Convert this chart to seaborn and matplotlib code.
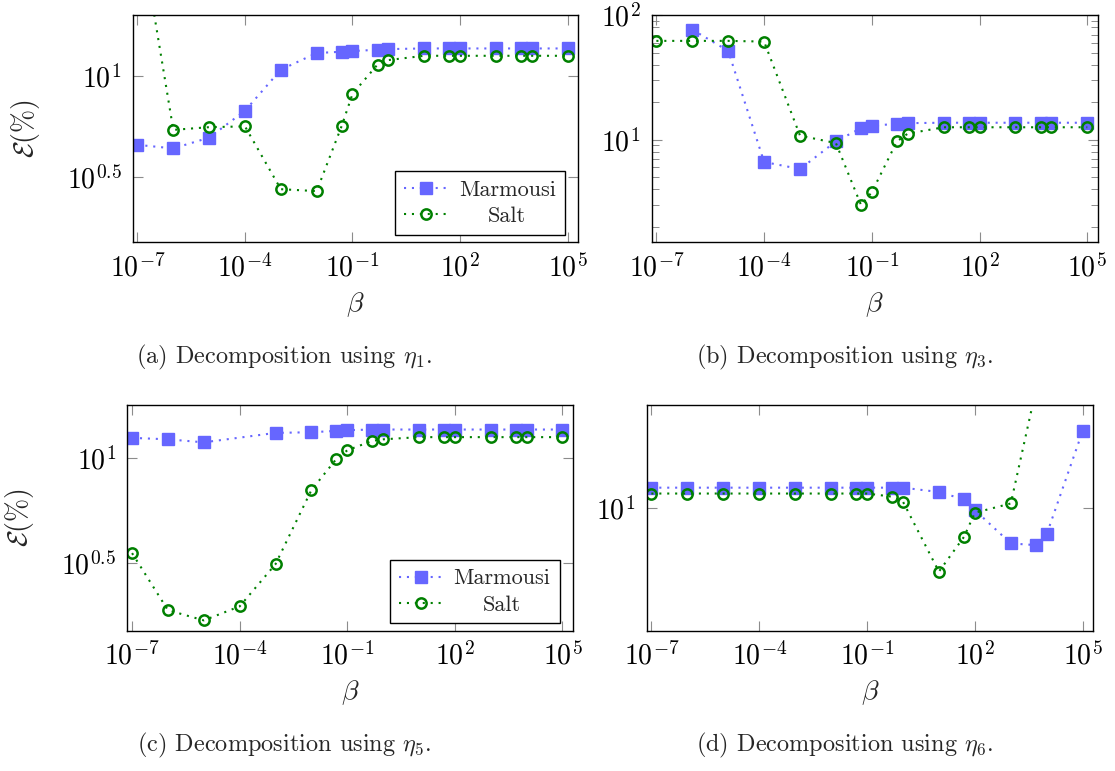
import numpy as np
import pandas as pd
import matplotlib
matplotlib.use("Agg")
import matplotlib.pyplot as plt
from matplotlib.ticker import FixedLocator, NullLocator, FixedFormatter
import seaborn as sns

# Regularisation weights shared by every panel
beta = [1e-7, 1e-6, 1e-5, 1e-4, 1e-3, 1e-2, 5e-2, 1e-1, 5e-1, 1,
        10, 50, 100, 1e3, 5e3, 1e4, 1e5]

# Relative error (%) for each decomposition (NaN = no run at that beta)
marmousi_eta1 = [4.56, 4.38, 4.95, 6.73, 10.75, 13.0, 13.2, 13.3, 13.5, 13.6,
                 13.7, 13.7, 13.7, 13.7, 13.7, 13.7, 13.7]
salt_eta1 = [64.0, 5.41, 5.58, 5.63, 2.75, 2.69, 5.66, 8.15, 11.4, 12.0,
             12.6, 12.6, 12.6, 12.6, 12.6, 12.6, 12.6]

marmousi_eta3 = [np.nan, 76.7, 51.8, 6.63, 5.82, 9.70, 12.4, 13.0, 13.4, 13.6,
                 13.7, 13.7, 13.7, 13.7, 13.7, 13.7, 13.7]
salt_eta3 = [62.3, 62.3, 62.3, 61.5, 10.8, 9.40, 2.99, 3.79, 9.70, 11.2,
             12.6, 12.6, 12.6, 12.6, 12.6, 12.6, 12.6]

marmousi_eta5 = [12.5, 12.3, 11.9, np.nan, 13.2, 13.3, 13.5, 13.6, 13.7, 13.7,
                 13.7, 13.7, 13.7, 13.7, 13.7, 13.7, 13.7]
salt_eta5 = [3.52, 1.88, 1.68, 1.96, 3.12, 7.04, 9.93, 10.9, 12.1, 12.3,
             12.6, 12.6, 12.6, 12.6, 12.6, 12.6, 12.6]

marmousi_eta6 = [13.8, 13.8, 13.8, 13.8, 13.8, 13.8, 13.8, 13.8, 13.8, 13.8,
                 12.9, 11.5, 9.75, 5.81, 5.66, 6.71, 33.3]
salt_eta6 = [12.6, 12.6, 12.6, 12.6, 12.6, 12.6, 12.6, 12.6, 12.0, 11.1,
             3.75, 6.44, 9.35, 10.8, 63.0, 63.0, 63.0]

series_labels = ["Marmousi", "Salt"]
x_tick_values = [1e-7, 1e-4, 1e-1, 1e2, 1e5]
x_tick_labels = [r"$10^{-7}$", r"$10^{-4}$", r"$10^{-1}$", r"$10^{2}$", r"$10^{5}$"]
captions = [r"(a) Decomposition using $\eta_1$.",
            r"(b) Decomposition using $\eta_3$.",
            r"(c) Decomposition using $\eta_5$.",
            r"(d) Decomposition using $\eta_6$."]

sns.set_theme(style="ticks")
plt.rcParams.update({
    "mathtext.fontset": "cm",
    "axes.formatter.use_mathtext": True,
    "axes.unicode_minus": False,
    "axes.edgecolor": "black",
    "axes.linewidth": 1.0,
})
plt.rcParams["font.family"] = ["cmr10", "DejaVu Serif"]

BLUE = "#6666ff"
GREEN = "#008000"
W, H = 1115, 771


def rect(left, right, top, bottom):
    return [left / W, 1 - bottom / H, (right - left) / W, (bottom - top) / H]


panels = [
    dict(m=marmousi_eta1, s=salt_eta1, rect=rect(132.8, 577.9, 15.3, 242.3),
         ylim=(1.5, 20), yticks=[10 ** 0.5, 10], ylabels=[r"$10^{0.5}$", r"$10^{1}$"],
         yminor=[], legend=True, ylabel=True, cap=(284, 357)),
    dict(m=marmousi_eta3, s=salt_eta3, rect=rect(651.7, 1097.7, 15.3, 242.3),
         ylim=(1.5, 100), yticks=[10, 100], ylabels=[r"$10^{1}$", r"$10^{2}$"],
         yminor=[2, 3, 4, 5, 6, 7, 8, 9, 20, 30, 40, 50, 60, 70, 80, 90],
         legend=False, ylabel=False, cap=(845, 357)),
    dict(m=marmousi_eta5, s=salt_eta5, rect=rect(127.4, 572.9, 404.7, 630.7),
         ylim=(1.5, 18), yticks=[10 ** 0.5, 10], ylabels=[r"$10^{0.5}$", r"$10^{1}$"],
         yminor=[], legend=True, ylabel=True, cap=(284, 745)),
    dict(m=marmousi_eta6, s=salt_eta6, rect=rect(646.7, 1093.1, 404.7, 630.7),
         ylim=(1.5, 50), yticks=[10], ylabels=[r"$10^{1}$"],
         yminor=[], legend=False, ylabel=False, cap=(845, 745)),
]

fig = plt.figure(figsize=(W / 100, H / 100), dpi=100)
line_kw = dict(linestyle=(0, (1, 2.8)), linewidth=1.5)
legends = []

for i, p in enumerate(panels):
    ax = fig.add_axes(p["rect"])
    ax.set_xscale("log")
    ax.set_yscale("log")

    df_m = pd.DataFrame({"beta": beta, "err": p["m"]}).dropna()
    df_s = pd.DataFrame({"beta": beta, "err": p["s"]}).dropna()
    sns.lineplot(data=df_m, x="beta", y="err", ax=ax, color=BLUE, marker="s",
                 markersize=8.6, markerfacecolor=BLUE, markeredgecolor=BLUE,
                 markeredgewidth=1.0, **line_kw)
    sns.lineplot(data=df_s, x="beta", y="err", ax=ax, color=GREEN, marker="o",
                 markersize=7.4, markerfacecolor="none", markeredgecolor=GREEN,
                 markeredgewidth=1.8, **line_kw)

    ax.set_xlim(10 ** -7.13, 10 ** 5.29)
    ax.set_ylim(*p["ylim"])

    ax.xaxis.set_major_locator(FixedLocator(x_tick_values))
    ax.xaxis.set_major_formatter(FixedFormatter(x_tick_labels))
    ax.xaxis.set_minor_locator(NullLocator())
    ax.yaxis.set_major_locator(FixedLocator(p["yticks"]))
    ax.yaxis.set_major_formatter(FixedFormatter(p["ylabels"]))
    if p["yminor"]:
        ax.yaxis.set_minor_locator(FixedLocator(p["yminor"]))
    else:
        ax.yaxis.set_minor_locator(NullLocator())
    ax.yaxis.set_minor_formatter(FixedFormatter([]))

    ax.tick_params(which="both", direction="in", top=True, right=True,
                   color="#8c8c8c", labelcolor="black", labelsize=20)
    ax.tick_params(which="major", length=7.2, width=0.8)
    ax.tick_params(which="minor", length=4.8, width=0.7)
    ax.tick_params(axis="x", pad=8)
    ax.tick_params(axis="y", pad=8)
    for sp in ax.spines.values():
        sp.set_color("black")
        sp.set_linewidth(1.0)

    ax.set_xlabel(r"$\beta$", fontsize=20)
    ax.xaxis.set_label_coords(0.5, -0.21)
    if p["ylabel"]:
        ax.set_ylabel(r"$\mathcal{E}(\%)$", fontsize=20)
        ax.yaxis.set_label_coords(-0.205, 0.5)
    else:
        ax.set_ylabel("")

    if p["legend"]:
        leg = ax.legend(handles=ax.lines[:2], labels=series_labels,
                        loc="lower right", bbox_to_anchor=(0.970, 0.032),
                        borderaxespad=0, frameon=True, fancybox=False,
                        edgecolor="black", framealpha=1, fontsize=16,
                        handlelength=2.0, handletextpad=0.45, borderpad=0.4,
                        labelspacing=0.3)
        leg.get_frame().set_linewidth(1.0)
        legends.append(leg)

    fig.text(p["cap"][0] / W, 1 - p["cap"][1] / H, captions[i],
             ha="center", va="center", fontsize=17.5)

# center the legend entries within their column
fig.canvas.draw()
for leg in legends:
    texts = leg.get_texts()
    widths = [t.get_window_extent().width for t in texts]
    wmax = max(widths)
    for t, w in zip(texts, widths):
        t.set_position(((wmax - w) / 2, 0))

fig.savefig("out.png", dpi=100)
